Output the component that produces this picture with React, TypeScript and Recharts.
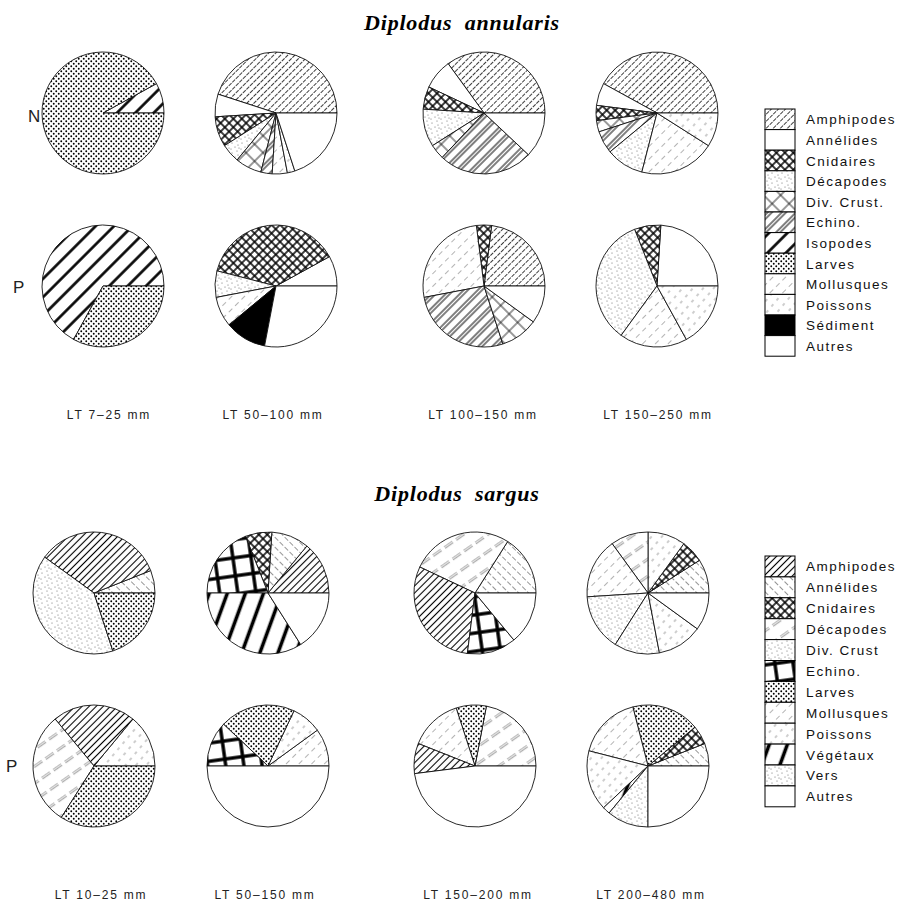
import React from 'react';
import { PieChart, Pie, Cell } from 'recharts';

// prey categories, legend order
const annularisCategories = [
  'Amphipodes', 'Annélides', 'Cnidaires', 'Décapodes', 'Div. Crust.', 'Echino.',
  'Isopodes', 'Larves', 'Mollusques', 'Poissons', 'Sédiment', 'Autres',
];
const sargusCategories = [
  'Amphipodes', 'Annélides', 'Cnidaires', 'Décapodes', 'Div. Crust', 'Echino.',
  'Larves', 'Mollusques', 'Poissons', 'Végétaux', 'Vers', 'Autres',
];

const annularisSizes = ['LT 7–25 mm', 'LT 50–100 mm', 'LT 100–150 mm', 'LT 150–250 mm'];
const sargusSizes = ['LT 10–25 mm', 'LT 50–150 mm', 'LT 150–200 mm', 'LT 200–480 mm'];

// Diplodus annularis, row N (% of diet, read counter-clockwise from 3 o'clock)
const annN1 = [
  { name: 'Isopodes', value: 8 },
  { name: 'Larves', value: 92 },
];
const annN2 = [
  { name: 'Amphipodes', value: 45 },
  { name: 'Annélides', value: 6 },
  { name: 'Cnidaires', value: 8 },
  { name: 'Décapodes', value: 5 },
  { name: 'Div. Crust.', value: 7 },
  { name: 'Echino.', value: 3 },
  { name: 'Mollusques', value: 4 },
  { name: 'Poissons', value: 2 },
  { name: 'Autres', value: 20 },
];
const annN3 = [
  { name: 'Amphipodes', value: 35 },
  { name: 'Annélides', value: 8 },
  { name: 'Cnidaires', value: 6 },
  { name: 'Décapodes', value: 10 },
  { name: 'Div. Crust.', value: 4 },
  { name: 'Echino.', value: 25 },
  { name: 'Autres', value: 12 },
];
const annN4 = [
  { name: 'Amphipodes', value: 42 },
  { name: 'Annélides', value: 6 },
  { name: 'Cnidaires', value: 4 },
  { name: 'Div. Crust.', value: 3 },
  { name: 'Echino.', value: 6 },
  { name: 'Décapodes', value: 10 },
  { name: 'Mollusques', value: 20 },
  { name: 'Poissons', value: 9 },
];
// row P
const annP1 = [
  { name: 'Isopodes', value: 67 },
  { name: 'Larves', value: 33 },
];
const annP2 = [
  { name: 'Annélides', value: 8 },
  { name: 'Cnidaires', value: 38 },
  { name: 'Décapodes', value: 7 },
  { name: 'Mollusques', value: 8 },
  { name: 'Sédiment', value: 11 },
  { name: 'Autres', value: 28 },
];
const annP3 = [
  { name: 'Amphipodes', value: 23 },
  { name: 'Cnidaires', value: 4 },
  { name: 'Mollusques', value: 26 },
  { name: 'Echino.', value: 27 },
  { name: 'Div. Crust.', value: 10 },
  { name: 'Autres', value: 10 },
];
const annP4 = [
  { name: 'Annélides', value: 24 },
  { name: 'Cnidaires', value: 7 },
  { name: 'Décapodes', value: 34 },
  { name: 'Mollusques', value: 18 },
  { name: 'Poissons', value: 17 },
];

// Diplodus sargus, row N
const sarN1 = [
  { name: 'Annélides', value: 6 },
  { name: 'Amphipodes', value: 34 },
  { name: 'Div. Crust', value: 40 },
  { name: 'Larves', value: 20 },
];
const sarN2 = [
  { name: 'Amphipodes', value: 14 },
  { name: 'Annélides', value: 10 },
  { name: 'Cnidaires', value: 7 },
  { name: 'Echino.', value: 19 },
  { name: 'Végétaux', value: 34 },
  { name: 'Autres', value: 16 },
];
const sarN3 = [
  { name: 'Annélides', value: 16 },
  { name: 'Décapodes', value: 27 },
  { name: 'Amphipodes', value: 30 },
  { name: 'Echino.', value: 13 },
  { name: 'Autres', value: 14 },
];
const sarN4 = [
  { name: 'Annélides', value: 9 },
  { name: 'Cnidaires', value: 6 },
  { name: 'Poissons', value: 10 },
  { name: 'Décapodes', value: 10 },
  { name: 'Mollusques', value: 16 },
  { name: 'Div. Crust', value: 15 },
  { name: 'Vers', value: 12 },
  { name: 'Poissons', value: 12 },
  { name: 'Autres', value: 10 },
];
// row P
const sarP1 = [
  { name: 'Poissons', value: 14 },
  { name: 'Amphipodes', value: 22 },
  { name: 'Décapodes', value: 30 },
  { name: 'Larves', value: 34 },
];
const sarP2 = [
  { name: 'Mollusques', value: 10 },
  { name: 'Poissons', value: 8 },
  { name: 'Larves', value: 20 },
  { name: 'Echino.', value: 12 },
  { name: 'Autres', value: 50 },
];
const sarP3 = [
  { name: 'Décapodes', value: 22 },
  { name: 'Larves', value: 8 },
  { name: 'Mollusques', value: 14 },
  { name: 'Amphipodes', value: 8 },
  { name: 'Autres', value: 48 },
];
const sarP4 = [
  { name: 'Annélides', value: 6 },
  { name: 'Cnidaires', value: 5 },
  { name: 'Larves', value: 18 },
  { name: 'Mollusques', value: 17 },
  { name: 'Poissons', value: 16 },
  { name: 'Végétaux', value: 2 },
  { name: 'Vers', value: 11 },
  { name: 'Autres', value: 25 },
];

const annRows = [[annN1, annN2, annN3, annN4], [annP1, annP2, annP3, annP4]];
const sarRows = [[sarN1, sarN2, sarN3, sarN4], [sarP1, sarP2, sarP3, sarP4]];

// fills per category
const annFill: Record<string, string> = {
  'Amphipodes': 'url(#amph)',
  'Annélides': '#fff',
  'Cnidaires': 'url(#cross)',
  'Décapodes': 'url(#stipple)',
  'Div. Crust.': 'url(#bigcross)',
  'Echino.': 'url(#double)',
  'Isopodes': 'url(#isop)',
  'Larves': 'url(#dots)',
  'Mollusques': 'url(#faint)',
  'Poissons': 'url(#faintdash)',
  'Sédiment': '#000',
  'Autres': '#fff',
};
const sarFill: Record<string, string> = {
  'Amphipodes': 'url(#amph2)',
  'Annélides': 'url(#annel2)',
  'Cnidaires': 'url(#cross)',
  'Décapodes': 'url(#double2)',
  'Div. Crust': 'url(#stipple)',
  'Echino.': 'url(#grid)',
  'Larves': 'url(#dots)',
  'Mollusques': 'url(#faint)',
  'Poissons': 'url(#faintdash)',
  'Végétaux': 'url(#bold)',
  'Vers': 'url(#stipple)',
  'Autres': '#fff',
};

const W = 903;
const H = 904;
const R = 61;
const annX = [103, 276, 484, 657];
const annY = [113, 286];
const sarX = [94, 268, 475, 648];
const sarY = [593, 766];

function Lines({ id, size, angle, width, dash, opacity = 1, offsets = [0.5] }: any) {
  return (
    <pattern id={id} width={size} height={size} patternUnits="userSpaceOnUse" patternTransform={`rotate(${angle})`}>
      <rect width={size} height={size} fill="#fff" />
      {offsets.map((o: number, i: number) => (
        <line key={i} x1={o * size} y1={0} x2={o * size} y2={size} stroke="#000"
          strokeWidth={width} strokeDasharray={dash} strokeOpacity={opacity} />
      ))}
    </pattern>
  );
}

function Patterns() {
  return (
    <defs>
      <Lines id="amph" size={5} angle={45} width={0.9} dash="4 2" opacity={0.85} />
      <Lines id="amph2" size={5} angle={45} width={1.1} />
      <Lines id="annel2" size={7} angle={-45} width={0.7} dash="5 3" opacity={0.6} />
      <Lines id="isop" size={13} angle={45} width={2.6} />
      <Lines id="double" size={10} angle={45} width={1} offsets={[0.3, 0.6]} />
      <Lines id="double2" size={14} angle={55} width={0.6} dash="6 4" offsets={[0.2, 0.33]} opacity={0.6} />
      <Lines id="faint" size={9} angle={45} width={0.6} dash="5 4" opacity={0.5} />
      <Lines id="faintdash" size={8} angle={40} width={0.7} dash="3 5" opacity={0.55} />
      <Lines id="bold" size={17} angle={20} width={3.6} />
      <pattern id="cross" width={6} height={6} patternUnits="userSpaceOnUse" patternTransform="rotate(45)">
        <rect width={6} height={6} fill="#fff" />
        <line x1={3} y1={0} x2={3} y2={6} stroke="#000" strokeWidth={1.5} />
        <line x1={0} y1={3} x2={6} y2={3} stroke="#000" strokeWidth={1.5} />
      </pattern>
      <pattern id="bigcross" width={12} height={12} patternUnits="userSpaceOnUse" patternTransform="rotate(45)">
        <rect width={12} height={12} fill="#fff" />
        <line x1={6} y1={0} x2={6} y2={12} stroke="#000" strokeWidth={0.8} />
        <line x1={0} y1={6} x2={12} y2={6} stroke="#000" strokeWidth={0.8} />
      </pattern>
      <pattern id="grid" width={18} height={18} patternUnits="userSpaceOnUse" patternTransform="rotate(-8)">
        <rect width={18} height={18} fill="#fff" />
        <line x1={9} y1={0} x2={9} y2={18} stroke="#000" strokeWidth={3.4} />
        <line x1={0} y1={9} x2={18} y2={9} stroke="#000" strokeWidth={3.4} />
      </pattern>
      <pattern id="dots" width={5} height={5} patternUnits="userSpaceOnUse">
        <rect width={5} height={5} fill="#fff" />
        <circle cx={1.25} cy={1.25} r={0.95} fill="#000" />
        <circle cx={3.75} cy={3.75} r={0.95} fill="#000" />
      </pattern>
      <pattern id="stipple" width={10} height={10} patternUnits="userSpaceOnUse">
        <rect width={10} height={10} fill="#fff" />
        {[[2, 3], [7, 1], [5, 7], [9, 8], [1, 9], [8, 5]].map(([x, y], i) => (
          <circle key={i} cx={x} cy={y} r={0.55} fill="#000" fillOpacity={0.6} />
        ))}
      </pattern>
    </defs>
  );
}

const sans = 'Liberation Sans, Arial, sans-serif';
const serif = 'Liberation Serif, Times New Roman, serif';

function Legend({ categories, fills, top, rowH }: any) {
  return (
    <g>
      {categories.map((c: string, i: number) => (
        <g key={c}>
          <rect x={765} y={top + i * rowH} width={30} height={rowH} fill={fills[c]} stroke="#000" strokeWidth={1} />
          <text x={806} y={top + i * rowH + rowH / 2 + 5} fontSize={13.5} letterSpacing={1.5}
            fontFamily={sans} fill="#111">{c}</text>
        </g>
      ))}
    </g>
  );
}

export default function App() {
  const pies: React.ReactNode[] = [];
  annRows.forEach((row, r) =>
    row.forEach((data, c) => {
      pies.push(
        <Pie key={`a${r}${c}`} data={data} dataKey="value" nameKey="name" cx={annX[c]} cy={annY[r]}
          outerRadius={R} startAngle={0} endAngle={360} stroke="#111" strokeWidth={0.9} isAnimationActive={false}>
          {data.map((d, i) => <Cell key={i} fill={annFill[d.name]} />)}
        </Pie>
      );
    })
  );
  sarRows.forEach((row, r) =>
    row.forEach((data, c) => {
      pies.push(
        <Pie key={`s${r}${c}`} data={data} dataKey="value" nameKey="name" cx={sarX[c]} cy={sarY[r]}
          outerRadius={R} startAngle={0} endAngle={360} stroke="#111" strokeWidth={0.9} isAnimationActive={false}>
          {data.map((d, i) => <Cell key={i} fill={sarFill[d.name]} />)}
        </Pie>
      );
    })
  );

  return (
    <div style={{ position: 'absolute', left: 0, top: 0, width: W, height: H, background: '#fff' }}>
      <PieChart width={W} height={H} margin={{ top: 0, right: 0, bottom: 0, left: 0 }}>
        <Patterns />
        {pies}
        <text x={462} y={30} textAnchor="middle" fontFamily={serif} fontSize={22} fontWeight="bold"
          fontStyle="italic" letterSpacing={0.8} wordSpacing={6} fill="#000">Diplodus annularis</text>
        <text x={457} y={501} textAnchor="middle" fontFamily={serif} fontSize={22} fontWeight="bold"
          fontStyle="italic" letterSpacing={0.8} wordSpacing={6} fill="#000">Diplodus sargus</text>
        <text x={28} y={122} fontFamily={sans} fontSize={17} fill="#222">N</text>
        <text x={13} y={293} fontFamily={sans} fontSize={17} fill="#222">P</text>
        <text x={6} y={772} fontFamily={sans} fontSize={17} fill="#222">P</text>
        {annularisSizes.map((s, i) => (
          <text key={s} x={[109, 273, 483, 658][i]} y={419} textAnchor="middle" fontFamily={sans}
            fontSize={12} letterSpacing={1.8} fill="#222">{s}</text>
        ))}
        {sargusSizes.map((s, i) => (
          <text key={s} x={[101, 265, 478, 651][i]} y={899} textAnchor="middle" fontFamily={sans}
            fontSize={12} letterSpacing={1.8} fill="#222">{s}</text>
        ))}
        <Legend categories={annularisCategories} fills={annFill} top={109} rowH={20.6} />
        <Legend categories={sargusCategories} fills={sarFill} top={556} rowH={20.9} />
      </PieChart>
    </div>
  );
}
